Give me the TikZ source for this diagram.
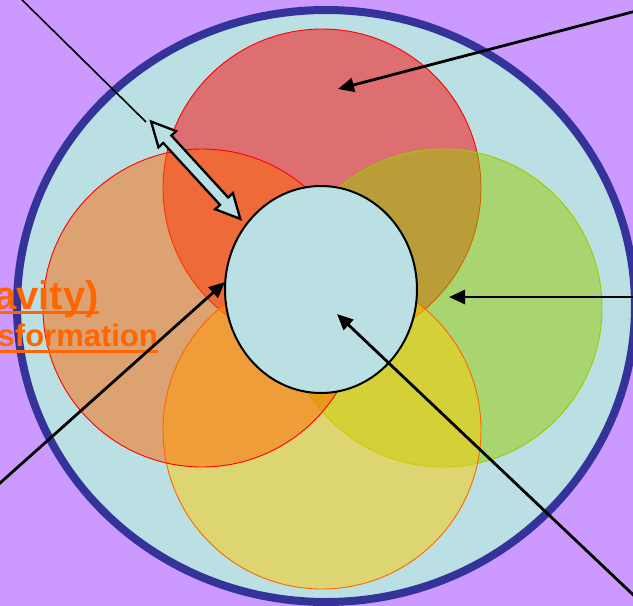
\documentclass[tikz,border=0pt]{standalone}
\usepackage{fontspec}
\setmainfont{Liberation Sans}
\usetikzlibrary{arrows.meta,shapes.geometric}

\definecolor{bgpurple}{HTML}{CC99FF}
\definecolor{rimblue}{HTML}{333399}
\definecolor{paleteal}{HTML}{BBE0E3}
\definecolor{leafgreen}{HTML}{99CC00}
\definecolor{sungold}{HTML}{FFCC00}
\definecolor{flame}{HTML}{FF6600}

\begin{document}
\begin{tikzpicture}[x=1pt, y=-1pt,
  petal/.style={circle, minimum size=318pt, inner sep=0pt, line width=0.9pt, fill opacity=0.5, text opacity=1},
  arr/.style={-{Triangle[length=16pt,width=14pt]}, line width=2.8pt},
  cuttext/.style={text=flame, inner sep=0pt, anchor=base west},
  uline/.style={flame, line width=3pt},
  twinarrow/.style={draw=black, fill=paleteal, line width=2.3pt, line join=miter}
]
\useasboundingbox (0,0) rectangle (633,606);
\fill[bgpurple] (0,0) rectangle (633,606);

% outer ring
\node[ellipse, draw=rimblue, line width=8pt, fill=paleteal, inner sep=0pt,
      minimum width=618pt, minimum height=592pt] (rim) at (326,306) {};

% four petals, drawn in this order for the overlaps
\node[petal, draw=red, fill=red] (north) at (322,188) {};
\node[petal, draw=leafgreen, fill=leafgreen] (east) at (443,308) {};
\node[petal, draw=flame, fill=sungold] (south) at (322,430) {};
\node[petal, draw=red, fill=flame] (west) at (202,308) {};

% centre
\node[ellipse, draw, line width=2pt, fill=paleteal, inner sep=0pt,
      minimum width=192pt, minimum height=207pt] (core) at (321,289.5) {};

% cut-off titles
\node[cuttext, font=\bfseries\fontsize{40}{48}\selectfont] (gravity) at (-6,309) {avity)~};
\node[cuttext, font=\bfseries\fontsize{31}{37}\selectfont] (transf) at (-2.5,346.5) {sformation};
\draw[uline] ([yshift=-3pt]gravity.base west) -- ([yshift=-3pt]gravity.base east);
\draw[uline] ([yshift=-4.5pt]transf.base west) -- ([yshift=-4.5pt]transf.base east);

% connectors
\coordinate (nTail) at (640,10);
\coordinate (nHead) at (338,89);
\coordinate (eTail) at (640,297);
\coordinate (eHead) at (449,297);
\coordinate (sTail) at (645,606);
\coordinate (sHead) at (337,314);
\coordinate (wTail) at (-10,492);
\coordinate (wHead) at (225,282);
\coordinate (gTail) at (10,-12);
\coordinate (gEnd) at (146,122);
\draw[arr] (nTail) -- (nHead);
\draw[arr] (eTail) -- (eHead);
\draw[arr] (sTail) -- (sHead);
\draw[arr] (wTail) -- (wHead);
\draw[line width=1.6pt] (gTail) -- (gEnd);

% two-headed block arrow
\draw[twinarrow, shift={(195.7,170.2)}, rotate=-47.5]
  (-66,0) -- (-42,12) -- (-42,5.5) -- (42,5.5) -- (42,12) -- (66,0)
  -- (42,-12) -- (42,-5.5) -- (-42,-5.5) -- (-42,-12) -- cycle;
\end{tikzpicture}
\end{document}
